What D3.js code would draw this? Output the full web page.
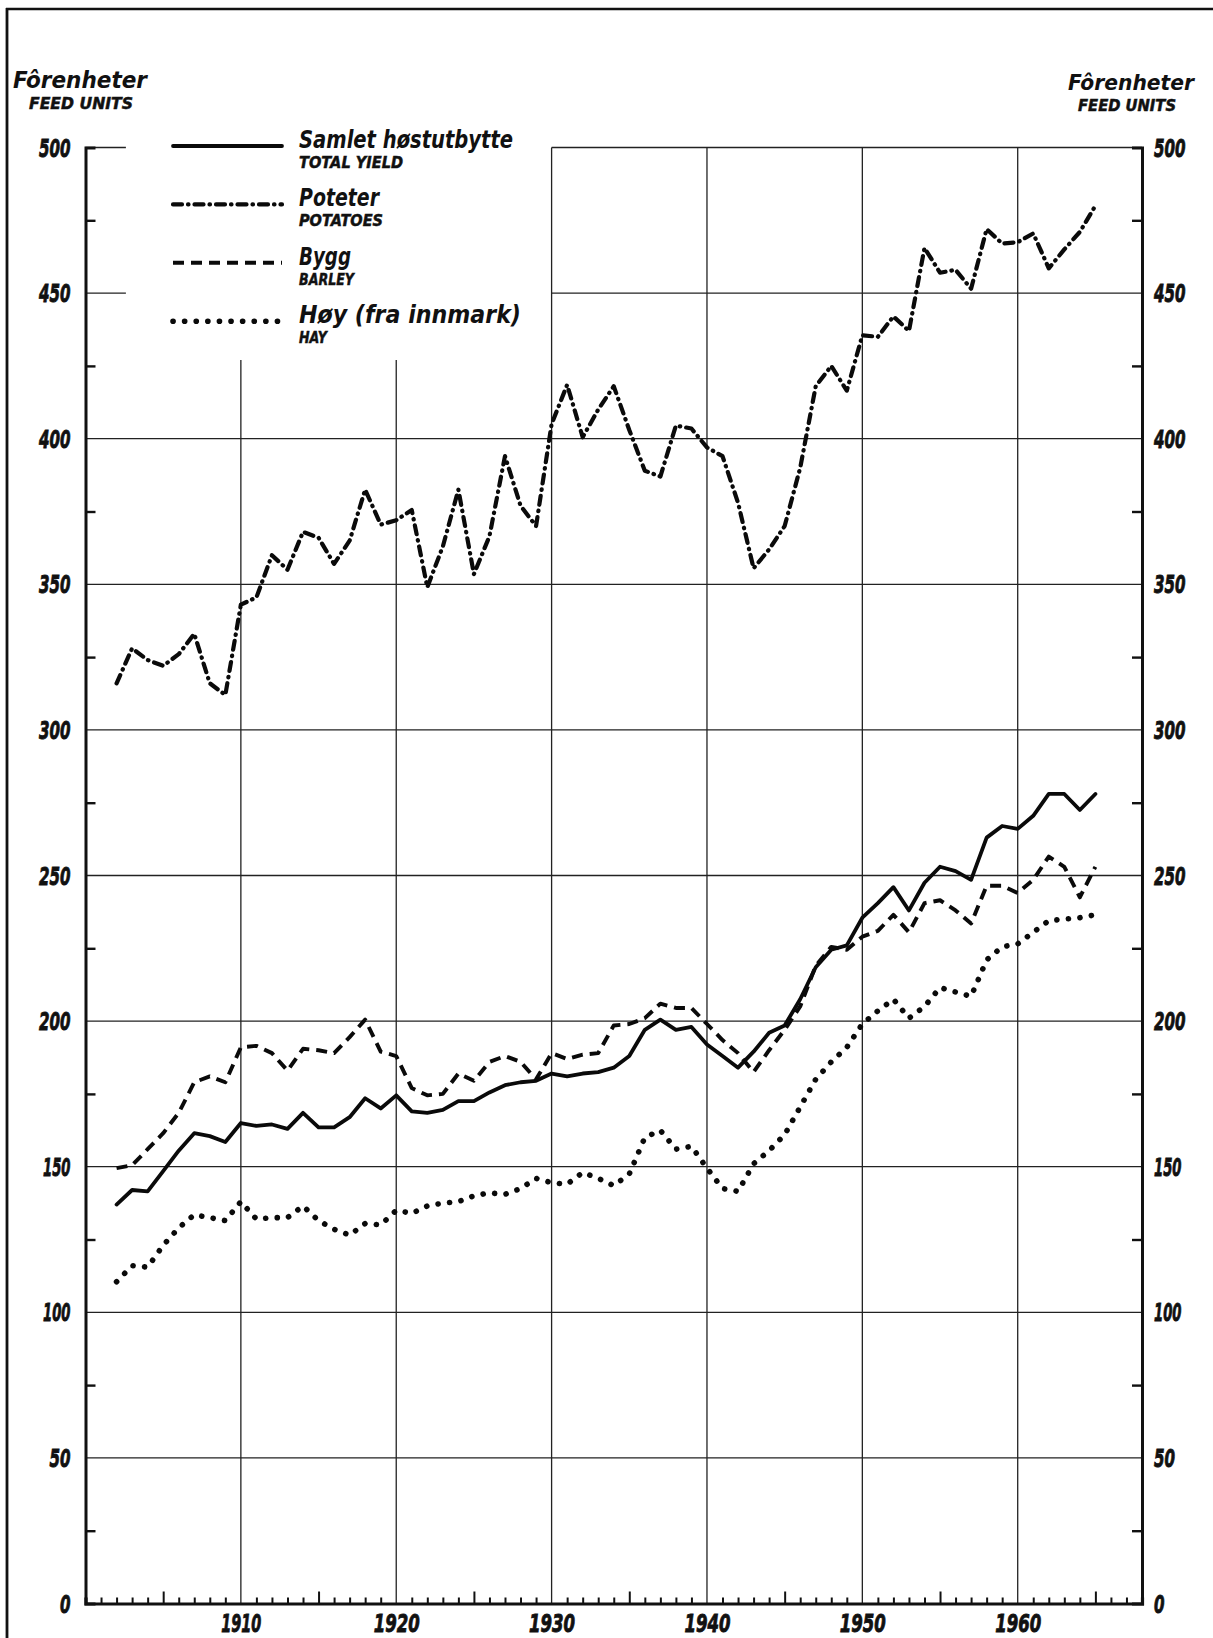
<!DOCTYPE html>
<html>
<head>
<meta charset="utf-8">
<script src="https://cdn.jsdelivr.net/npm/d3@7"></script>
<style>
  html, body { margin: 0; padding: 0; background: #fff; }
  svg { display: block; }
  text { font-family: "DejaVu Sans", "Liberation Sans", sans-serif; font-style: italic; font-weight: bold; fill: #111; }
</style>
</head>
<body>
<svg id="chart" width="1213" height="1638"></svg>
<script>
// ---- data ----
const years = d3.range(1902, 1966);
const totalYield = [137,142,141.5,148.5,155.5,161.5,160.5,158.5,165,164,164.5,163,168.5,163.5,163.5,167,173.5,170,174.5,169,168.5,169.5,172.5,172.5,175.5,178,179,179.5,182,181,182,182.5,184,188,197,200.5,197,198,192,188,184,189.5,196,198.5,207.5,218.5,224.5,226,235.5,240.5,246,238,247.5,253,251.5,248.5,263,267,266,270.5,278,278,272.5,278];
const potatoes = [316,328,324,322,326,333,316,312,343,345.5,360,355,368,366,357,365,382.5,370.5,372,375.5,349,363,382.5,353.5,366.5,394,377,370,405,418.5,400.5,410,418,403,389,387,404.5,403.5,397,394,378,355.5,362,370,390,418,425,416.5,435.5,435,442,437,465.5,457,458,451.5,472,467,467.5,470.5,458.5,465,471,480];
const barley = [149.5,150.5,156,161.5,168.5,179,181,179,191,191.5,189,183,190.5,190,189,194.5,200.5,189.5,188,177,174.5,175,182,179.5,186,188,186,180,189,187,188.5,189,198.5,199,201,206,204.5,204.5,199,193.5,189,182.5,190,197,205,219,225.5,224.5,229,231,236.5,230.5,240.5,241.5,238,233.5,246.5,246.5,244,248.5,256.5,253,242.5,253];
const hay = [110.5,116,115.5,123,129,133.5,132.5,131.5,138,132,132.5,132.5,136.5,131.5,128.5,126.5,130.5,130,135,134,136.5,137.5,138,140,141,140.5,142.5,146,144.5,144,148,146,143.5,147.5,160,162.5,156,157,149.5,142.5,141.5,151,155.5,161,170.5,180,186,191,199,203.5,207.5,201,205,211.5,210,208.5,221,225.5,226.5,230.5,234.5,235,235.5,236.5];

const yTickLabels = [0,50,100,150,200,250,300,350,400,450,500];
const decadeLabels = [1910,1920,1930,1940,1950,1960];
const seriesNames = ["Samlet høstutbytte","Poteter","Bygg","Høy (fra innmark)"];
const seriesNamesEn = ["TOTAL YIELD","POTATOES","BARLEY","HAY"];
const axisTitle = "Fôrenheter";
const axisTitleEn = "FEED UNITS";

// ---- presentation (not data) ----
const styles = [
  {w: 3.8, dash: null, cap: "round"},
  {w: 4.2, dash: "9 6 0.5 6", cap: "round"},
  {w: 3.9, dash: "11 7", cap: "butt"},
  {w: 5.6, dash: "0.1 11.5", cap: "round"}
];
const nameLen = [214, 80, 52, 222];
const nameEnLen = [104, 84, 55, 28];
const digitLen = s => s.split("").reduce((a, c) => a + (c === "1" ? 6.5 : 10.5), 0);

const seriesData = [totalYield, potatoes, barley, hay];

const svg = d3.select("#chart");
const x = d3.scaleLinear().domain([1900, 1968]).range([85.5, 1142]);
const y = d3.scaleLinear().domain([0, 500]).range([1603.5, 147.5]);

// frame
svg.append("line").attr("x1", 6).attr("x2", 1213).attr("y1", 9).attr("y2", 9).attr("stroke", "#111").attr("stroke-width", 2.6);
svg.append("line").attr("x1", 7).attr("x2", 7).attr("y1", 8).attr("y2", 1638).attr("stroke", "#111").attr("stroke-width", 2.8);

const grid = svg.append("g").attr("stroke", "#222").attr("stroke-width", 1.3);
d3.range(50, 501, 50).forEach(v => {
  if (v >= 450) {
    grid.append("line").attr("x1", x(1900)).attr("x2", x(1902.6)).attr("y1", y(v)).attr("y2", y(v));
    grid.append("line").attr("x1", x(1930)).attr("x2", x(1968)).attr("y1", y(v)).attr("y2", y(v));
  } else {
    grid.append("line").attr("x1", x(1900)).attr("x2", x(1968)).attr("y1", y(v)).attr("y2", y(v));
  }
});
decadeLabels.forEach(yr => {
  const top = yr < 1930 ? y(427) : y(500);
  grid.append("line").attr("x1", x(yr)).attr("x2", x(yr)).attr("y1", top).attr("y2", y(0));
});

// left & right axes, ticks inward at the 25s
const leftAxis = d3.axisRight(y).tickValues(d3.range(25, 500, 50)).tickSize(10).tickFormat("");
const gl = svg.append("g").attr("transform", `translate(${x(1900)},0)`).call(leftAxis);
gl.select(".domain").attr("stroke-width", 3).attr("stroke", "#111");
gl.selectAll(".tick line").attr("stroke-width", 2.4).attr("stroke", "#111");
const rightAxis = d3.axisLeft(y).tickValues(d3.range(25, 500, 50)).tickSize(10).tickFormat("");
const gr = svg.append("g").attr("transform", `translate(${x(1968)},0)`).call(rightAxis);
gr.select(".domain").attr("stroke-width", 3).attr("stroke", "#111");
gr.selectAll(".tick line").attr("stroke-width", 2.4).attr("stroke", "#111");

function styleNum(sel) {
  sel.attr("font-size", 24).attr("font-family", null).attr("dy", "0.36em")
    .attr("stroke", "#111").attr("stroke-width", 0.9)
    .attr("textLength", function () { return digitLen(this.textContent); })
    .attr("lengthAdjust", "spacingAndGlyphs");
}
const ylL = d3.axisLeft(y).tickValues(yTickLabels).tickSize(0).tickPadding(15).tickFormat(d3.format("d"));
const glL = svg.append("g").attr("transform", `translate(${x(1900)},0)`).call(ylL);
glL.select(".domain").remove();
styleNum(glL.selectAll("text"));
const ylR = d3.axisRight(y).tickValues(yTickLabels).tickSize(0).tickPadding(12).tickFormat(d3.format("d"));
const glR = svg.append("g").attr("transform", `translate(${x(1968)},0)`).call(ylR);
glR.select(".domain").remove();
styleNum(glR.selectAll("text"));

// bottom axis: yearly ticks pointing up, longer every 5 years
const minor = d3.range(1901, 1968).filter(d => d % 10 !== 0);
const bAxis = d3.axisTop(x).tickValues(minor).tickSize(6).tickFormat("");
const gb = svg.append("g").attr("transform", `translate(0,${y(0)})`).call(bAxis);
gb.select(".domain").attr("stroke-width", 3.2).attr("stroke", "#111");
gb.selectAll(".tick line").attr("stroke-width", 2).attr("stroke", "#111")
  .filter(d => d % 5 === 0).attr("y2", -12);
const bLab = d3.axisBottom(x).tickValues(decadeLabels).tickSize(0).tickPadding(10).tickFormat(d3.format("d"));
const gbl = svg.append("g").attr("transform", `translate(0,${y(0)})`).call(bLab);
gbl.select(".domain").remove();
gbl.selectAll("text").attr("font-size", 24).attr("font-family", null).attr("dy", "0.75em")
  .attr("stroke", "#111").attr("stroke-width", 0.9)
  .attr("textLength", d => d === 1910 ? 40 : 46).attr("lengthAdjust", "spacingAndGlyphs");

// series
const line = d3.line().x((d, i) => x(years[i])).y(d => y(d));
seriesData.forEach((arr, k) => {
  const st = styles[k];
  svg.append("path").datum(arr).attr("d", line)
    .attr("fill", "none").attr("stroke", "#0a0a0a")
    .attr("stroke-width", st.w).attr("stroke-linejoin", "round")
    .attr("stroke-linecap", st.cap)
    .attr("stroke-dasharray", st.dash);
});

// legend
const lg = svg.append("g");
seriesNames.forEach((nm, k) => {
  const ly = 146 + k * 58.4;
  const st = styles[k];
  lg.append("line").attr("x1", 173).attr("x2", 282).attr("y1", ly).attr("y2", ly)
    .attr("stroke", "#0a0a0a").attr("stroke-width", st.w).attr("stroke-linecap", st.cap).attr("stroke-dasharray", st.dash);
  lg.append("text").attr("x", 299).attr("y", ly + 2).attr("font-size", 25)
    .attr("textLength", nameLen[k]).attr("lengthAdjust", "spacingAndGlyphs").text(nm);
  lg.append("text").attr("x", 299).attr("y", ly + 22).attr("font-size", 15.5).attr("font-weight", "normal")
    .attr("stroke", "#111").attr("stroke-width", 0.5)
    .attr("textLength", nameEnLen[k]).attr("lengthAdjust", "spacingAndGlyphs").text(seriesNamesEn[k]);
});

// axis titles
svg.append("text").attr("x", 13).attr("y", 88).attr("font-size", 23)
  .attr("textLength", 134).attr("lengthAdjust", "spacingAndGlyphs").text(axisTitle);
svg.append("text").attr("x", 29).attr("y", 109).attr("font-size", 16).attr("font-weight", "normal")
  .attr("stroke", "#111").attr("stroke-width", 0.5)
  .attr("textLength", 104).attr("lengthAdjust", "spacingAndGlyphs").text(axisTitle === "" ? "" : axisTitleEn);
svg.append("text").attr("x", 1068).attr("y", 90).attr("font-size", 21)
  .attr("textLength", 126).attr("lengthAdjust", "spacingAndGlyphs").text(axisTitle);
svg.append("text").attr("x", 1078).attr("y", 111).attr("font-size", 15).attr("font-weight", "normal")
  .attr("stroke", "#111").attr("stroke-width", 0.5)
  .attr("textLength", 98).attr("lengthAdjust", "spacingAndGlyphs").text(axisTitleEn);
</script>
</body>
</html>
